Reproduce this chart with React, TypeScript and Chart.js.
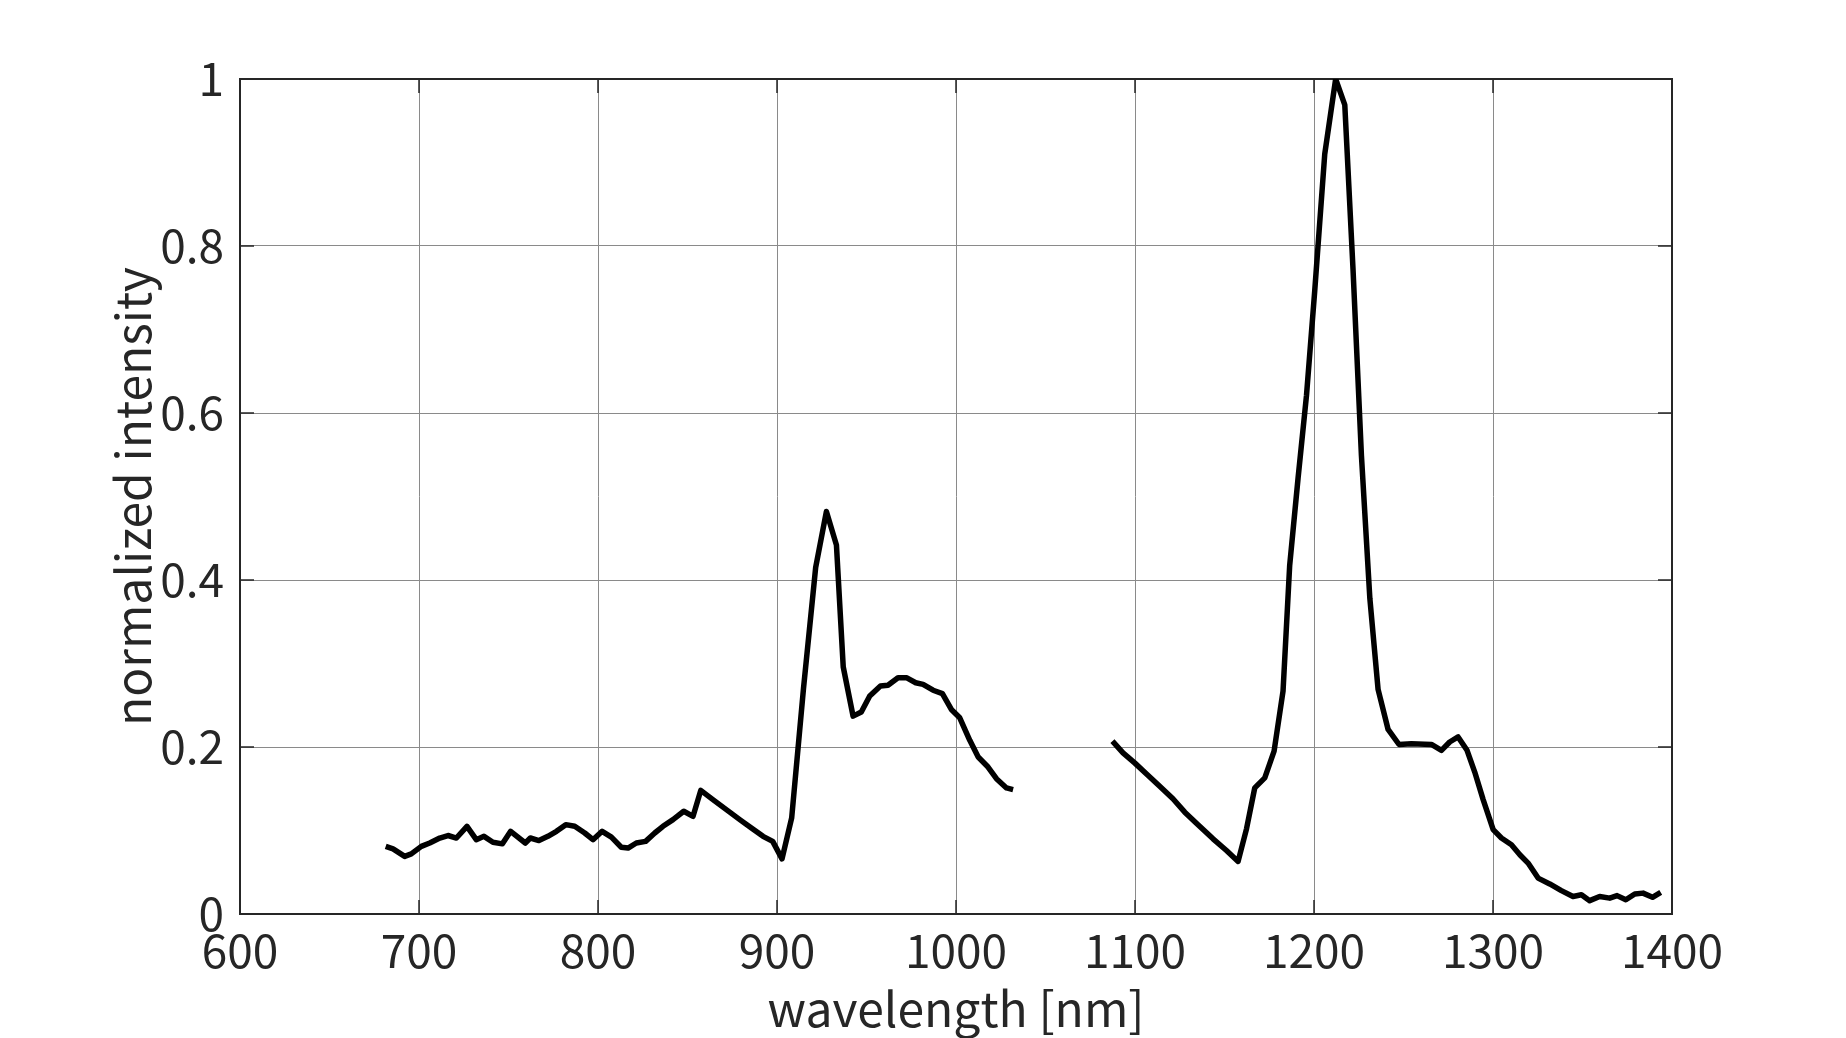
import React, { useEffect, useRef } from 'react';
import { Chart, registerables } from 'chart.js';

Chart.register(...registerables);

// wavelength [nm] (null intensity marks the gap in the measured spectrum)
const wavelengths = [
  681.4, 685.5, 692.0, 695.7, 701.3, 706.0, 711.6, 716.2, 720.9, 726.8,
  732.0, 736.3, 741.3, 746.6, 751.2, 759.4, 762.2, 767.0, 772.0, 776.8,
  782.0, 787.0, 792.6, 797.2, 802.3, 807.5, 813.0, 816.8, 821.4, 826.6,
  831.7, 836.3, 841.9, 847.9, 853.1, 857.4, 864.2, 871.7, 879.2, 885.7,
  892.2, 897.6, 902.8, 908.2, 914.8, 921.6, 927.6, 933.2, 937.0, 942.5,
  947.1, 951.8, 957.8, 962.0, 967.6, 972.3, 977.5, 981.6, 987.2, 992.4,
  997.4, 1002.1, 1007.7, 1012.4, 1017.9, 1022.6, 1028.2, 1031.9,
  1060.0,
  1087.4, 1093.3, 1099.8, 1106.3, 1113.8, 1121.2, 1127.8, 1135.2, 1143.6, 1151.1,
  1157.6, 1162.3, 1166.9, 1172.5, 1177.7, 1182.7, 1186.4, 1191.1, 1195.8, 1200.4,
  1206.0, 1212.1, 1217.2, 1221.8, 1226.5, 1231.2, 1235.8, 1241.4, 1247.5, 1254.4,
  1265.6, 1271.2, 1275.8, 1280.5, 1285.5, 1289.8, 1294.5, 1300.1, 1304.7, 1310.3,
  1315.0, 1319.6, 1325.2, 1331.7, 1338.2, 1344.7, 1349.4, 1354.0, 1359.6, 1365.2,
  1369.3, 1374.2, 1379.2, 1383.8, 1389.1, 1393.7,
];

// normalized intensity
const intensity: (number | null)[] = [
  0.081, 0.078, 0.069, 0.072, 0.081, 0.085, 0.091, 0.094, 0.091, 0.105,
  0.089, 0.093, 0.086, 0.084, 0.099, 0.085, 0.091, 0.088, 0.093, 0.099,
  0.107, 0.105, 0.097, 0.089, 0.099, 0.092, 0.080, 0.079, 0.085, 0.087,
  0.097, 0.105, 0.113, 0.123, 0.117, 0.148, 0.137, 0.125, 0.113, 0.103,
  0.093, 0.087, 0.066, 0.115, 0.270, 0.415, 0.482, 0.442, 0.296, 0.237,
  0.242, 0.261, 0.273, 0.274, 0.283, 0.283, 0.277, 0.275, 0.268, 0.264,
  0.245, 0.235, 0.208, 0.188, 0.176, 0.162, 0.151, 0.149,
  null,
  0.207, 0.193, 0.181, 0.168, 0.153, 0.138, 0.122, 0.107, 0.090, 0.076,
  0.063, 0.102, 0.151, 0.163, 0.195, 0.267, 0.417, 0.522, 0.621, 0.746,
  0.910, 1.000, 0.969, 0.772, 0.549, 0.378, 0.269, 0.221, 0.203, 0.204,
  0.203, 0.196, 0.206, 0.212, 0.196, 0.170, 0.137, 0.101, 0.091, 0.083,
  0.071, 0.061, 0.043, 0.036, 0.028, 0.021, 0.023, 0.016, 0.021, 0.019,
  0.022, 0.017, 0.024, 0.025, 0.020, 0.026,
];

const xTickValues = [600, 700, 800, 900, 1000, 1100, 1200, 1300, 1400];
const yTickValues = [0, 0.2, 0.4, 0.6, 0.8, 1];
const xTitle = 'wavelength [nm]';
const yTitle = 'normalized intensity';

const FONT = "'Noto Sans CJK JP', 'Noto Sans', sans-serif";
const TEXT = '#262626';
const GRID = '#8a8a8a';

const boxPlugin = {
  id: 'matlabBox',
  beforeDatasetsDraw(chart: any) {
    const { ctx, chartArea, scales } = chart;
    const { left, right, top, bottom } = chartArea;
    const xs = scales.x;
    const ys = scales.y;
    const len = 14;
    ctx.save();
    ctx.strokeStyle = TEXT;
    ctx.lineWidth = 1.5;
    ctx.beginPath();
    xs.ticks.forEach((t: any) => {
      const px = xs.getPixelForValue(t.value);
      ctx.moveTo(px, bottom);
      ctx.lineTo(px, bottom - len);
      ctx.moveTo(px, top);
      ctx.lineTo(px, top + len);
    });
    ys.ticks.forEach((t: any) => {
      const py = ys.getPixelForValue(t.value);
      ctx.moveTo(left, py);
      ctx.lineTo(left + len, py);
      ctx.moveTo(right, py);
      ctx.lineTo(right - len, py);
    });
    ctx.stroke();
    ctx.lineWidth = 2;
    ctx.strokeRect(left, top, right - left, bottom - top);
    ctx.restore();
  },
};

export default function App() {
  const canvasRef = useRef<HTMLCanvasElement | null>(null);

  useEffect(() => {
    const canvas = canvasRef.current;
    if (!canvas) return;
    const points = wavelengths.map((w, i) => ({ x: w, y: intensity[i] }));
    const chart = new Chart(canvas, {
      type: 'line',
      data: {
        datasets: [
          {
            data: points as any,
            borderColor: '#000000',
            borderWidth: 5.5,
            pointRadius: 0,
            tension: 0,
            spanGaps: false,
            borderJoinStyle: 'round',
            borderCapStyle: 'butt',
          },
        ],
      },
      options: {
        animation: false,
        responsive: false,
        devicePixelRatio: 1,
        layout: { padding: { top: 79, right: 174, left: 0, bottom: 0 } },
        plugins: {
          legend: { display: false },
          tooltip: { enabled: false },
        },
        scales: {
          x: {
            type: 'linear',
            min: 600,
            max: 1400,
            afterBuildTicks: (s: any) => {
              s.ticks = xTickValues.map((v) => ({ value: v }));
            },
            afterFit: (s: any) => {
              s.height = 124;
            },
            ticks: {
              autoSkip: false,
              maxRotation: 0,
              padding: 9,
              color: TEXT,
              font: { family: FONT, size: 46 },
              callback: (v: any) => String(v),
            },
            grid: { color: GRID, lineWidth: 1, drawTicks: false },
            border: { display: false },
            title: {
              display: true,
              text: xTitle,
              color: TEXT,
              font: { family: FONT, size: 48 },
              padding: { top: 0, bottom: 0 },
            },
          },
          y: {
            type: 'linear',
            min: 0,
            max: 1,
            afterBuildTicks: (s: any) => {
              s.ticks = yTickValues.map((v) => ({ value: v }));
            },
            afterFit: (s: any) => {
              s.width = 240;
            },
            ticks: {
              padding: 16,
              color: TEXT,
              font: { family: FONT, size: 46 },
              callback: (v: any) => String(Math.round(v * 10) / 10),
            },
            grid: { color: GRID, lineWidth: 1, drawTicks: false },
            border: { display: false },
            title: {
              display: true,
              text: yTitle,
              color: TEXT,
              font: { family: FONT, size: 48 },
              padding: { top: 104, bottom: 0 },
            },
          },
        },
      },
      plugins: [boxPlugin],
    });
    return () => chart.destroy();
  }, []);

  return (
    <div style={{ position: 'absolute', left: 0, top: 0, width: 1846, height: 1038, background: '#ffffff' }}>
      <canvas ref={canvasRef} width={1846} height={1038} style={{ display: 'block' }} />
    </div>
  );
}
